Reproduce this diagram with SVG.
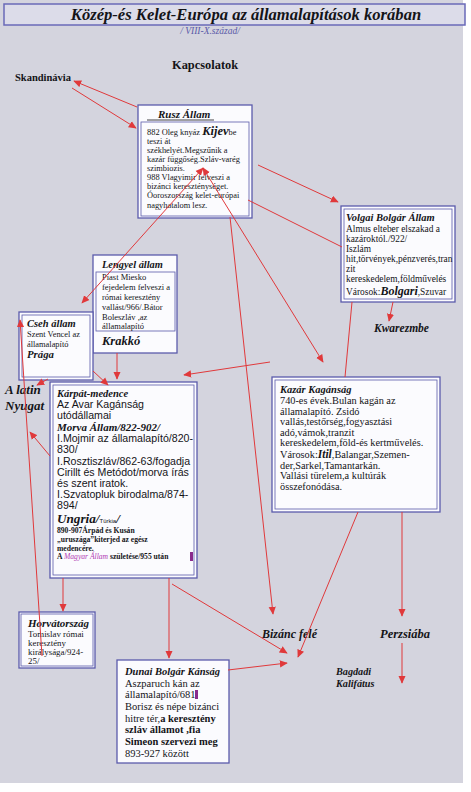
<svg xmlns="http://www.w3.org/2000/svg" width="471" height="792" viewBox="0 0 471 792">
<defs>
<marker id="ah" viewBox="0 0 10 10" refX="9" refY="5" markerWidth="8" markerHeight="8" orient="auto-start-reverse" markerUnits="userSpaceOnUse">
<path d="M0,0.5 L10,5 L0,9.5 z" fill="#e0393b"/>
</marker>
</defs>
<style>
.page{fill:#d4d4de}
.ob{fill:#fbfbfe;stroke:#5b5bab;stroke-width:1.3}
.ib{fill:none;stroke:#5b5bab;stroke-width:0.8}
.c line{stroke:#e0393b;stroke-width:1;fill:none}
.a{marker-end:url(#ah)}
.d{marker-start:url(#ah);marker-end:url(#ah)}
text{font-family:"Liberation Serif","Times New Roman",serif;fill:#141418}
.bi{font-weight:bold;font-style:italic}
.b{font-weight:bold}
.s{font-family:"Liberation Sans",Arial,sans-serif}
.mag{fill:#b23ab4;font-style:italic}
</style>
<rect x="0" y="0" width="471" height="792" fill="#ffffff"/>
<rect class="page" x="0" y="0" width="463" height="783"/>

<g id="title">
<rect x="4" y="4" width="461" height="21" fill="#dcdce9" stroke="#6a6ab8" stroke-width="1.5"/>
<text x="246" y="20" text-anchor="middle" class="bi" font-size="16.6">Közép-és Kelet-Európa az államalapítások korában</text>
<text x="210" y="34" text-anchor="middle" font-style="italic" font-size="9.5" style="fill:#5a5aa8">/ VIII-X.század/</text>
</g>

<g id="kapcsolatok"><text x="172" y="69" class="b" font-size="12.4">Kapcsolatok</text></g>
<g id="skandinavia"><text x="15" y="81" class="b" font-size="10.5">Skandinávia</text></g>

<g id="rusz">
<rect class="ob" x="138" y="105" width="114" height="113"/>
<rect class="ib" x="141" y="122" width="108" height="94"/>
<text x="158" y="118" class="bi" font-size="11">Rusz Állam</text>
<line x1="147" y1="120" x2="214" y2="120" stroke="#141418" stroke-width="0.8"/>
<g font-size="8.4">
<text x="147" y="135">882 Oleg knyáz <tspan class="bi" font-size="12.5">Kijev</tspan>be</text>
<text x="147" y="144">teszi át</text>
<text x="147" y="153">székhelyét.Megszűnik a</text>
<text x="147" y="162">kazár függőség.Szláv-varég</text>
<text x="147" y="171">szimbiozis.</text>
<text x="147" y="180">988 Vlagyimir felveszi a</text>
<text x="147" y="189">bizánci kereszténységet.</text>
<text x="147" y="198">Óoroszország kelet-európai</text>
<text x="147" y="208">nagyhatalom lesz.</text>
</g>
</g>

<g id="volgai">
<rect class="ob" x="341" y="206" width="114" height="96"/>
<rect class="ib" x="344" y="209" width="108" height="90"/>
<text x="346" y="221" class="bi" font-size="10.5">Volgai Bolgár Állam</text>
<g font-size="9.4">
<text x="346" y="232">Almus elteber elszakad a</text>
<text x="346" y="242">kazároktól./922/</text>
<text x="346" y="252">Iszlám</text>
<text x="346" y="262">hit,törvények,pénzverés,tran</text>
<text x="346" y="272">zit</text>
<text x="346" y="282">kereskedelem,földművelés</text>
<text x="346" y="294.5">Városok:<tspan class="bi" font-size="12">Bolgari</tspan>,Szuvar</text>
</g>
</g>

<g id="kwarezmbe"><text x="374" y="332" class="bi" font-size="11.5">Kwarezmbe</text></g>

<g id="lengyel">
<rect class="ob" x="93" y="255" width="84" height="98"/>
<rect class="ib" x="96" y="272" width="79" height="59"/>
<text x="102" y="268" class="bi" font-size="10.4">Lengyel állam</text>
<g font-size="8.5">
<text x="102" y="280">Piast Miesko</text>
<text x="102" y="290">fejedelem felveszi a</text>
<text x="102" y="300">római keresztény</text>
<text x="102" y="310">vallást/966/.Bátor</text>
<text x="102" y="320">Boleszláv ,az</text>
<text x="102" y="329">államalapító</text>
</g>
<text x="102" y="345" class="bi" font-size="12.5">Krakkó</text>
</g>

<g id="cseh">
<rect class="ob" x="19" y="312" width="74" height="68"/>
<rect class="ib" x="22" y="315" width="68" height="62"/>
<text x="27" y="327" class="bi" font-size="10.5">Cseh állam</text>
<text x="27" y="337" font-size="8.4">Szent Vencel az</text>
<text x="27" y="346.5" font-size="8.4">államalapító</text>
<text x="27" y="358" class="bi" font-size="10.8">Prága</text>
</g>

<g id="latin">
<text x="5" y="394" class="bi" font-size="13">A latin</text>
<text x="5" y="410" class="bi" font-size="13">Nyugat</text>
</g>

<g id="karpat">
<rect class="ob" x="50" y="382" width="147" height="196"/>
<rect class="ib" x="53" y="385" width="141" height="190"/>
<text x="57" y="397" class="bi" font-size="10.5">Kárpát-medence</text>
<g class="s" font-size="10.6">
<text x="57" y="408" class="s">Az Avar Kagánság</text>
<text x="57" y="419" class="s">utódállamai</text>
<text x="57" y="442" class="s">I.Mojmir az államalapító/820-</text>
<text x="57" y="453" class="s">830/</text>
<text x="57" y="464.5" class="s">I.Rosztiszláv/862-63/fogadja</text>
<text x="57" y="476" class="s">Cirillt és Metódot/morva írás</text>
<text x="57" y="487" class="s">és szent iratok.</text>
<text x="57" y="498" class="s">I.Szvatopluk birodalma/874-</text>
<text x="57" y="509" class="s">894/</text>
</g>
<text x="57" y="431" class="bi" font-size="11">Morva Állam/822-902/</text>
<text x="57" y="522.5" class="bi" font-size="13.2">Ungria/<tspan class="s" font-size="6" font-weight="normal" font-style="normal">Türkia</tspan>/</text>
<g class="b" font-size="7.6">
<text x="57" y="533" class="b">890-907Árpád és Kusán</text>
<text x="57" y="542" class="b">„uruszága”kiterjed az egész</text>
<text x="57" y="550.5" class="b">medencére.</text>
<text x="57" y="559" class="b">A <tspan class="mag" font-weight="normal">Magyar Állam</tspan> születése/955 után</text>
</g>
<rect x="190" y="552" width="3" height="9" fill="#8a2a8c"/>
</g>

<g id="kazar">
<rect class="ob" x="272" y="377" width="168" height="135"/>
<rect class="ib" x="275" y="380" width="162" height="129"/>
<text x="280" y="393" class="bi" font-size="10.5">Kazár Kagánság</text>
<g font-size="10.3">
<text x="280" y="404">740-es évek.Bulan kagán az</text>
<text x="280" y="414.5">államalapító. Zsidó</text>
<text x="280" y="425">vallás,testőrség,fogyasztási</text>
<text x="280" y="435.5">adó,vámok,tranzit</text>
<text x="280" y="446">kereskedelem,föld-és kertművelés.</text>
<text x="280" y="457.5">Városok:<tspan class="bi" font-size="11.5">Itil</tspan>,Balangar,Szemen-</text>
<text x="280" y="468.5">der,Sarkel,Tamantarkán.</text>
<text x="280" y="479">Vallási türelem,a kultúrák</text>
<text x="280" y="489.5">összefonódása.</text>
</g>
</g>

<g id="horvat">
<rect class="ob" x="19" y="612" width="76" height="56"/>
<rect class="ib" x="21" y="614" width="72" height="52"/>
<text x="28" y="627" class="bi" font-size="11">Horvátország</text>
<g font-size="8.9">
<text x="28" y="636.5">Tomislav római</text>
<text x="28" y="645.5">keresztény</text>
<text x="28" y="654.5">királysága/924-</text>
<text x="28" y="663.5">25/</text>
</g>
</g>

<g id="dunai">
<rect class="ob" x="117" y="660" width="112" height="103"/>
<text x="125" y="675" class="bi" font-size="10.5">Dunai Bolgár Kánság</text>
<g font-size="10.5">
<text x="125" y="687">Aszparuch kán az</text>
<text x="125" y="698">államalapító/681</text>
<text x="125" y="710">Borisz és népe bizánci</text>
<text x="125" y="722">hitre tér,<tspan class="b">a keresztény</tspan></text>
<text x="125" y="733" class="b">szláv államot ,fia</text>
<text x="125" y="745" class="b">Simeon szervezi meg</text>
<text x="125" y="757">893-927 között</text>
</g>
<rect x="195" y="690" width="3" height="9" fill="#8a2a8c"/>
</g>

<g id="bizanc"><text x="262" y="638" class="bi" font-size="12">Bizánc felé</text></g>
<g id="perzsia"><text x="380" y="638" class="bi" font-size="12.5">Perzsiába</text></g>
<g id="bagdad">
<text x="336" y="675" class="bi" font-size="10.2">Bagdadi</text>
<text x="336" y="687" class="bi" font-size="10.2">Kalifátus</text>
</g>

<g id="connectors" class="c">
<line class="a" x1="137" y1="107" x2="74" y2="81"/>
<line class="a" x1="72" y1="88" x2="136" y2="128"/>
<line class="a" x1="258" y1="165" x2="338" y2="202"/>
<line x1="248" y1="200" x2="342" y2="247"/>
<line class="d" x1="203" y1="168" x2="82" y2="303"/>
<line class="d" x1="203" y1="168" x2="323" y2="362"/>
<line class="a" x1="230" y1="217" x2="273" y2="614"/>
<line x1="352" y1="302" x2="345" y2="377"/>
<line class="a" x1="393" y1="302" x2="389" y2="321"/>
<line class="a" x1="93" y1="371" x2="108" y2="385"/>
<line class="a" x1="117" y1="353" x2="117" y2="379"/>
<line class="a" x1="270" y1="362" x2="184" y2="375"/>
<line class="a" x1="48" y1="379" x2="37" y2="385"/>
<line class="a" x1="50" y1="456" x2="30" y2="432"/>
<line class="a" x1="42" y1="656" x2="20" y2="320"/>
<line class="a" x1="63" y1="578" x2="63" y2="611"/>
<line class="a" x1="169" y1="578" x2="169" y2="658"/>
<line class="a" x1="172" y1="584" x2="287" y2="653"/>
<line class="a" x1="228" y1="670" x2="287" y2="663"/>
<line class="a" x1="358" y1="512" x2="298" y2="657"/>
<line class="a" x1="402" y1="512" x2="402" y2="616"/>
<line class="a" x1="402" y1="643" x2="402" y2="683"/>
</g>
</svg>
